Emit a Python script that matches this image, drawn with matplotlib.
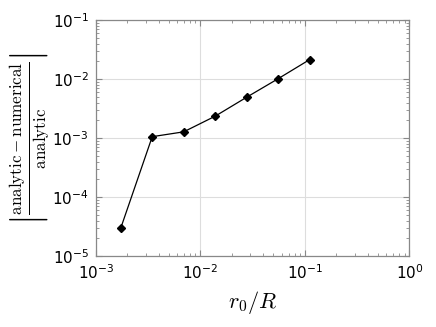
import matplotlib
matplotlib.use("Agg")
import matplotlib.pyplot as plt
from matplotlib.ticker import LogLocator, NullFormatter

plt.rcParams['mathtext.fontset'] = 'cm'

r0_over_R = [1/576, 1/288, 1/144, 1/72, 1/36, 1/18, 1/9]
rel_error = [2.98e-5, 1.06e-3, 1.28e-3, 2.36e-3, 4.95e-3, 1.02e-2, 2.15e-2]

fig = plt.figure(figsize=(4.36, 3.27), dpi=100)
ax = fig.add_axes([0.2195, 0.217, 0.7195, 0.721])
ax.plot(r0_over_R, rel_error, color='black', lw=0.9, marker='D', ms=4.5,
        markerfacecolor='black', markeredgecolor='black')
ax.set_xscale('log')
ax.set_yscale('log')
ax.set_xlim(1e-3, 1e0)
ax.set_ylim(1e-5, 1e-1)
ax.grid(True, which='major', color='#dddddd', lw=0.8)
ax.set_axisbelow(True)
for s in ax.spines.values():
    s.set_color('#888888')
    s.set_linewidth(0.9)
ax.tick_params(which='both', direction='in', top=True, right=True, color='#888888')
ax.tick_params(which='major', length=4, labelsize=11, pad=5)
ax.tick_params(which='minor', length=2)
ax.xaxis.set_minor_locator(LogLocator(base=10, subs=range(2, 10), numticks=20))
ax.yaxis.set_minor_locator(LogLocator(base=10, subs=range(2, 10), numticks=20))
ax.xaxis.set_minor_formatter(NullFormatter())
ax.yaxis.set_minor_formatter(NullFormatter())
ax.set_xlabel(r'$r_0/R$', fontsize=16, labelpad=5)
ax.set_ylabel(r'$\left|\frac{\mathrm{analytic}-\mathrm{numerical}}{\mathrm{analytic}}\right|$',
              fontsize=17.5, labelpad=0.5)
fig.savefig('out.png', dpi=100)
